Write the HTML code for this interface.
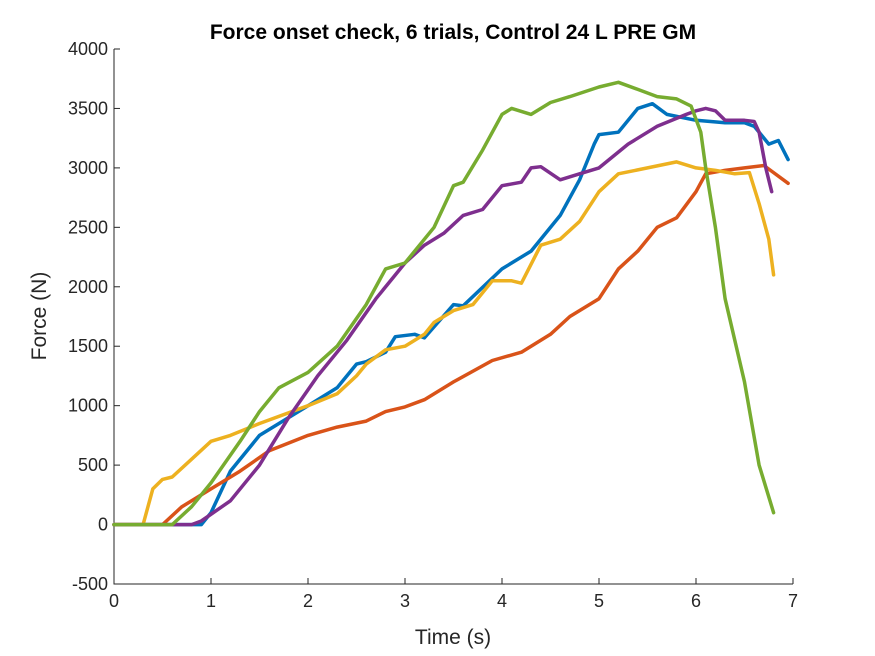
<!DOCTYPE html>
<html><head><meta charset="utf-8"><style>
body{margin:0;background:#fff;font-family:"Liberation Sans",sans-serif}
svg{display:block}
</style></head><body>
<svg id="chart" width="875" height="656">
<rect width="875" height="656" fill="#fff"/>
<text x="453" y="39" text-anchor="middle" font-size="21" font-weight="bold">Force onset check, 6 trials, Control 24 L PRE GM</text>
<g id="grid"></g>
<g id="series"></g>
<text x="453" y="644" text-anchor="middle" font-size="21" fill="#262626">Time (s)</text>
<text transform="translate(46,316) rotate(-90)" text-anchor="middle" font-size="21" fill="#262626">Force (N)</text>
</svg>
<script>
const xTicks=[0,1,2,3,4,5,6,7];
const yTicks=[-500,0,500,1000,1500,2000,2500,3000,3500,4000];
const blueT=[0,0.9,1.0,1.2,1.5,2.0,2.3,2.5,2.6,2.8,2.9,3.1,3.2,3.5,3.6,4.0,4.3,4.6,4.8,4.95,5.0,5.2,5.4,5.55,5.7,6.0,6.3,6.5,6.6,6.75,6.85,6.95];
const blueF=[0,0,100,450,750,1000,1150,1350,1370,1450,1580,1600,1570,1850,1840,2150,2300,2600,2900,3200,3280,3300,3500,3540,3450,3400,3380,3380,3350,3200,3230,3070];
const orangeT=[0,0.5,0.7,1.0,1.3,1.6,2.0,2.3,2.6,2.8,3.0,3.2,3.5,3.9,4.2,4.5,4.7,5.0,5.2,5.4,5.6,5.8,6.0,6.1,6.3,6.5,6.7,6.8,6.95];
const orangeF=[0,0,150,300,450,620,750,820,870,950,990,1050,1200,1380,1450,1600,1750,1900,2150,2300,2500,2580,2800,2950,2980,3000,3020,2960,2870];
const yellowT=[0,0.3,0.4,0.5,0.6,0.8,1.0,1.2,1.5,2.0,2.3,2.5,2.6,2.8,3.0,3.2,3.3,3.5,3.7,3.9,4.1,4.2,4.4,4.6,4.8,5.0,5.2,5.5,5.8,6.0,6.2,6.4,6.55,6.65,6.75,6.8];
const yellowF=[0,0,300,380,400,550,700,750,850,1000,1100,1250,1350,1470,1500,1600,1700,1800,1850,2050,2050,2030,2350,2400,2550,2800,2950,3000,3050,3000,2980,2950,2960,2700,2400,2100];
const purpleT=[0,0.8,0.9,1.2,1.5,1.8,2.1,2.4,2.7,3.0,3.2,3.4,3.6,3.8,4.0,4.2,4.3,4.4,4.6,4.8,5.0,5.3,5.6,5.9,6.0,6.1,6.2,6.3,6.5,6.6,6.65,6.72,6.78];
const purpleF=[0,0,30,200,500,900,1250,1550,1900,2200,2350,2450,2600,2650,2850,2880,3000,3010,2900,2950,3000,3200,3350,3450,3480,3500,3480,3400,3400,3390,3300,3000,2800];
const greenT=[0,0.6,0.8,1.0,1.3,1.5,1.7,2.0,2.3,2.6,2.8,3.0,3.3,3.5,3.6,3.8,4.0,4.1,4.3,4.5,4.7,5.0,5.2,5.4,5.6,5.8,5.95,6.05,6.1,6.2,6.3,6.5,6.65,6.8];
const greenF=[0,0,150,350,700,950,1150,1280,1500,1850,2150,2200,2500,2850,2880,3150,3450,3500,3450,3550,3600,3680,3720,3660,3600,3580,3520,3300,3000,2500,1900,1200,500,100];
const NS='http://www.w3.org/2000/svg';
const X0=114,X1=793,Y0=584,Y1=49;
const xs=t=>X0+(t-0)/(7-0)*(X1-X0);
const ys=f=>Y0-(f+500)/(4500)*(Y0-Y1);
const g=document.getElementById('grid');
function mk(tag,at,parent){const e=document.createElementNS(NS,tag);for(const k in at)e.setAttribute(k,at[k]);parent.appendChild(e);return e;}
const ax=mk('path',{d:`M${X0},${Y1}V${Y0}H${X1}`,stroke:'#262626',fill:'none','stroke-width':1},g);


xTicks.forEach(t=>{
  const l=mk('line',{x1:xs(t),x2:xs(t),y1:Y0,y2:Y0-6,stroke:'#262626'},g);
  
  
  const tx=mk('text',{x:xs(t),y:Y0+23,'text-anchor':'middle','font-size':18,fill:'#262626'},g);
  tx.textContent=t;
  
  
});
yTicks.forEach(v=>{
  const l=mk('line',{x1:X0,x2:X0+6,y1:ys(v),y2:ys(v),stroke:'#262626'},g);
  
  
  const tx=mk('text',{x:X0-6,y:ys(v)+6,'text-anchor':'end','font-size':18,fill:'#262626'},g);
  tx.textContent=v;
  
  
});
const sg=document.getElementById('series');
const series=[['blue',blueT,blueF,'#0072BD'],['orange',orangeT,orangeF,'#D95319'],['yellow',yellowT,yellowF,'#EDB120'],['purple',purpleT,purpleF,'#7E2F8E'],['green',greenT,greenF,'#77AC30']];
series.forEach(([n,T,F,c])=>{
  const pts=T.map((t,i)=>xs(t).toFixed(1)+','+ys(F[i]).toFixed(1)).join(' ');
  const p=mk('polyline',{points:pts,fill:'none',stroke:c,'stroke-width':3.5,'stroke-linejoin':'round','stroke-linecap':'round'},sg);
  
  
});
</script>
</body></html>
